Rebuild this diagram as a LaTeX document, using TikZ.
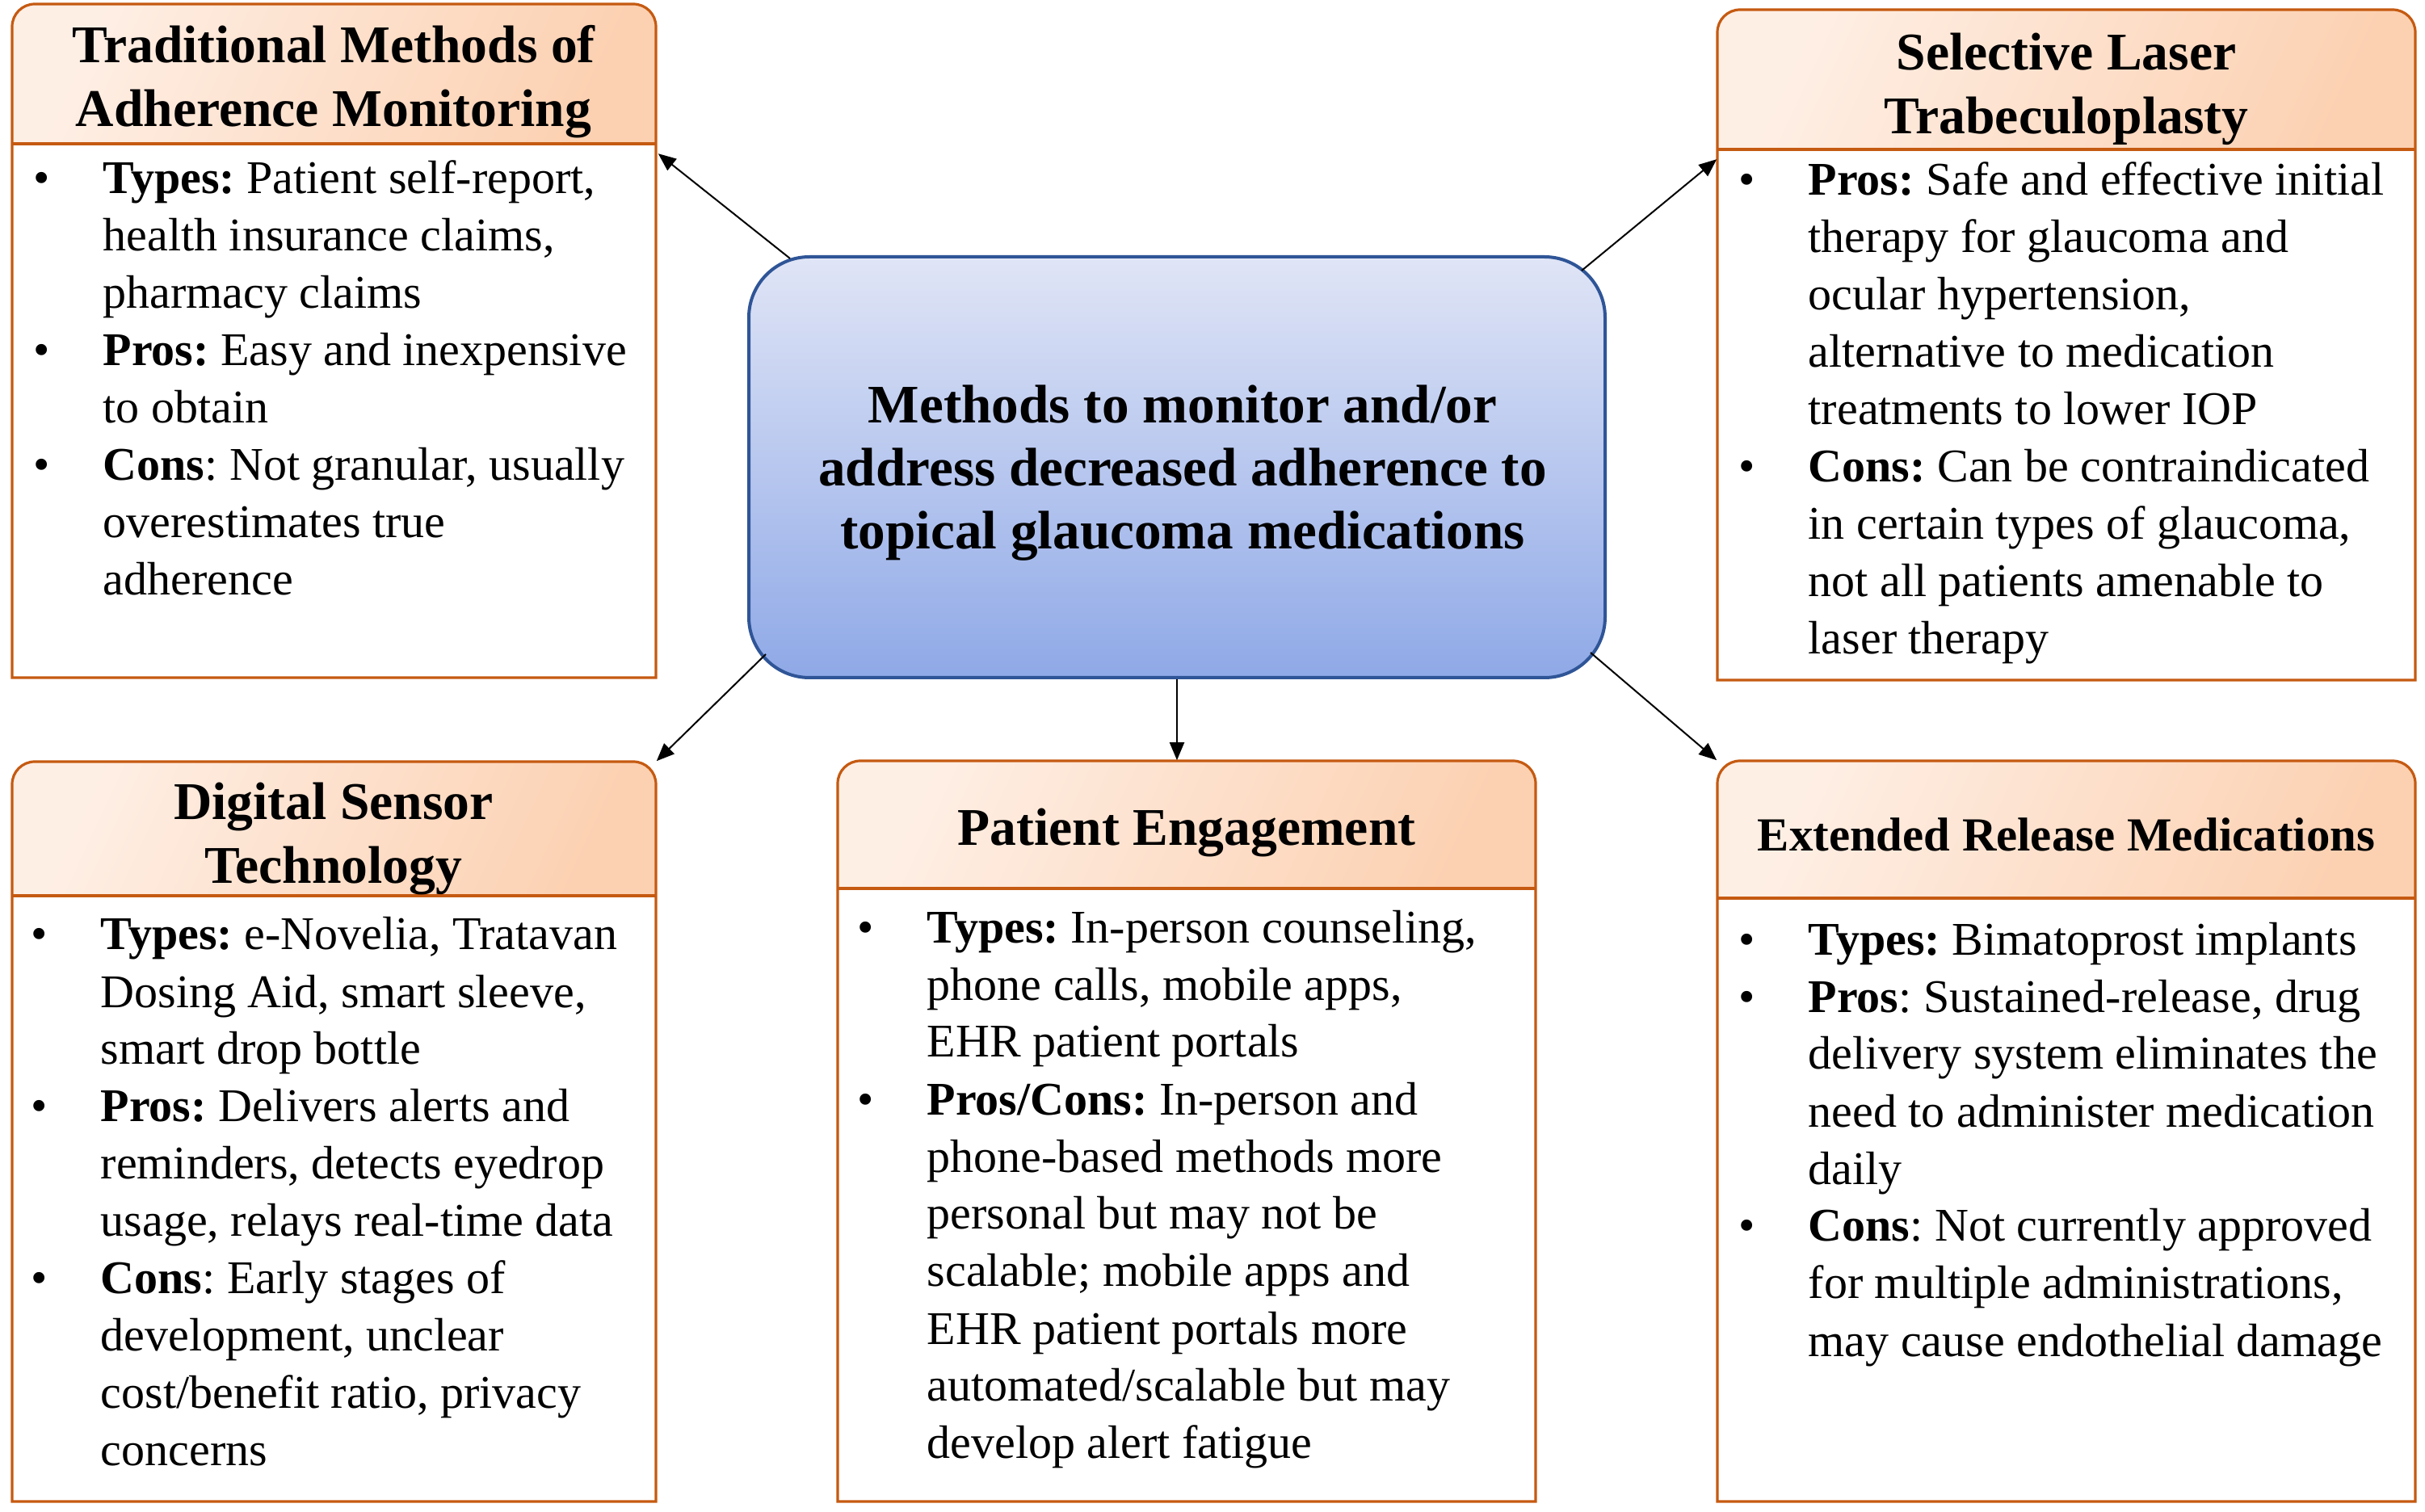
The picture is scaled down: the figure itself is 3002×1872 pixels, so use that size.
\documentclass[tikz,border=0pt]{standalone}
\usepackage{fontspec}
\setmainfont{Liberation Serif}
\usetikzlibrary{arrows.meta,calc,fit}
\definecolor{orborder}{HTML}{C55A11}
\definecolor{hdlight}{HTML}{FEEFE5}
\definecolor{hddark}{HTML}{FCD1B2}
\definecolor{cbtop}{HTML}{E0E5F6}
\definecolor{cbbot}{HTML}{8FA9E7}
\definecolor{cbborder}{HTML}{2F5597}
\frenchspacing
\newcommand\bulline[1]{\hbox{\llap{\textbullet\hspace*{16.5pt}}#1}}
\newcommand\plainline[1]{\hbox{#1}}
\newcommand\clines[1]{\vtop{\halign{\hfil##\hfil\cr#1\crcr}}}
\newcommand\orbox[6]{%
  \node[inner sep=0pt, fit={(#2,#3) (#4,#5)}] (#1) {};
  \fill[white] (#2,#6) rectangle (#4,#5);
  \shade[top color=hdlight, bottom color=hddark, shading angle=65]
    (#2,#6) -- (#2,{#3+28}) arc[start angle=180,end angle=270,radius=28]
    -- ({#4-28},#3) arc[start angle=270,end angle=360,radius=28] -- (#4,#6) -- cycle;
  \draw[orborder, line width=0.8pt]
    (#2,#5) -- (#2,{#3+28}) arc[start angle=180,end angle=270,radius=28]
    -- ({#4-28},#3) arc[start angle=270,end angle=360,radius=28] -- (#4,#5) -- cycle;
  \draw[orborder, line width=0.8pt] (#2,#6) -- (#4,#6);
}
\tikzset{
  bodytext/.style={inner sep=0pt, anchor=base west, font=\fontsize{14.5pt}{17.75pt}\selectfont\frenchspacing},
  headtext/.style={inner sep=0pt, anchor=base, font=\fontsize{16.4pt}{19.75pt}\selectfont\bfseries},
  conn/.style={draw, black, line width=0.5pt, -{Triangle[length=5.5pt,width=4.5pt]}}
}
\begin{document}
\begin{tikzpicture}[x=0.25pt,y=-0.25pt]
\fill[white] (0,0) rectangle (3002,1872);
\useasboundingbox (0,0) rectangle (3002,1872);

% boxes
\orbox{tl}{15}{5}{812}{839}{178}
\orbox{tr}{2126}{12}{2990}{842}{185}
\orbox{bl}{15}{943}{812}{1859}{1109}
\orbox{bm}{1037}{942}{1901}{1859}{1100}
\orbox{br}{2126}{942}{2990}{1859}{1112}

\node[draw=cbborder, line width=1pt, rounded corners=18.75pt, top color=cbtop, bottom color=cbbot,
      inner sep=0pt, fit={(927,318) (1987,839)}] (cb) {};
\node[inner sep=0pt, anchor=base, font=\fontsize{16.8pt}{19.5pt}\selectfont\bfseries] (cbtext) at (1464,524)
  {\clines{Methods to monitor and/or\cr address decreased adherence to\cr topical glaucoma medications}};

% headers
\node[headtext] (tlhead) at (413,78) {\clines{Traditional Methods of\cr Adherence Monitoring}};
\node[headtext] (trhead) at (2558,87) {\clines{Selective Laser\cr Trabeculoplasty}};
\node[headtext] (blhead) at (413,1015) {\clines{Digital Sensor\cr Technology}};
\node[headtext] (bmhead) at (1469,1047) {Patient Engagement};
\node[headtext, font=\fontsize{14.7pt}{17.75pt}\selectfont\bfseries] (brhead) at (2558,1053) {Extended Release Medications};

% bodies
\node[bodytext] (tlbody) at (127,240) {\vtop{%
\bulline{\textbf{Types:} Patient self-report,}
\plainline{health insurance claims,}
\plainline{pharmacy claims}
\bulline{\textbf{Pros:} Easy and inexpensive}
\plainline{to obtain}
\bulline{\textbf{Cons}: Not granular, usually}
\plainline{overestimates true}
\plainline{adherence}}};

\node[bodytext] (trbody) at (2238,242) {\vtop{%
\bulline{\textbf{Pros:} Safe and effective initial}
\plainline{therapy for glaucoma and}
\plainline{ocular hypertension,}
\plainline{alternative to medication}
\plainline{treatments to lower IOP}
\bulline{\textbf{Cons:} Can be contraindicated}
\plainline{in certain types of glaucoma,}
\plainline{not all patients amenable to}
\plainline{laser therapy}}};

\node[bodytext] (blbody) at (124,1176) {\vtop{%
\bulline{\textbf{Types:} e-Novelia, Tratavan}
\plainline{Dosing Aid, smart sleeve,}
\plainline{smart drop bottle}
\bulline{\textbf{Pros:} Delivers alerts and}
\plainline{reminders, detects eyedrop}
\plainline{usage, relays real-time data}
\bulline{\textbf{Cons}: Early stages of}
\plainline{development, unclear}
\plainline{cost/benefit ratio, privacy}
\plainline{concerns}}};

\node[bodytext] (bmbody) at (1147,1167) {\vtop{%
\bulline{\textbf{Types:} In-person counseling,}
\plainline{phone calls, mobile apps,}
\plainline{EHR patient portals}
\bulline{\textbf{Pros/Cons:} In-person and}
\plainline{phone-based methods more}
\plainline{personal but may not be}
\plainline{scalable; mobile apps and}
\plainline{EHR patient portals more}
\plainline{automated/scalable but may}
\plainline{develop alert fatigue}}};

\node[bodytext] (brbody) at (2238,1182) {\vtop{%
\bulline{\textbf{Types:} Bimatoprost implants}
\bulline{\textbf{Pros}: Sustained-release, drug}
\plainline{delivery system eliminates the}
\plainline{need to administer medication}
\plainline{daily}
\bulline{\textbf{Cons}: Not currently approved}
\plainline{for multiple administrations,}
\plainline{may cause endothelial damage}}};

% connectors
\draw[conn] ($(cb.north west)+(53,4)$) -- ($(tl.north east)+(2,186)$);
\draw[conn] ($(cb.north east)+(-31,19)$) -- ($(tr.north west)+(0,186)$);
\draw[conn] ($(cb.south west)+(23,-31)$) -- (bl.north east);
\draw[conn] (cb.south) -- (cb.south |- bm.north);
\draw[conn] ($(cb.south east)+(-20,-33)$) -- (br.north west);
\end{tikzpicture}
\end{document}
